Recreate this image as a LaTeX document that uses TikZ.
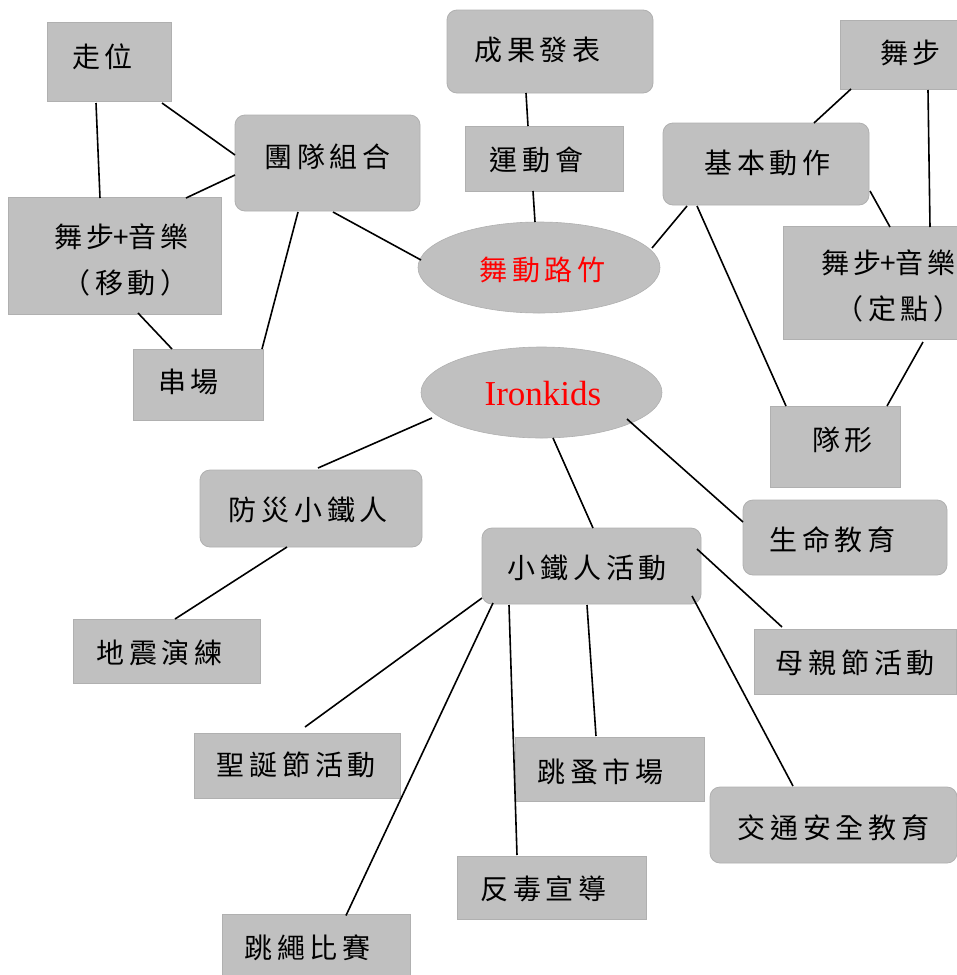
\documentclass[tikz,border=0pt]{standalone}
\usepackage{fontspec}
\newfontfamily\cjk[LetterSpace=17]{Noto Sans CJK TC}
\newfontfamily\ser{Liberation Serif}
\usetikzlibrary{shapes.geometric,calc}
\definecolor{boxgray}{RGB}{192,192,192}
\definecolor{edgegray}{RGB}{176,176,176}
\tikzset{
  sqbox/.style={rectangle,fill=boxgray,draw=edgegray,line width=0.8pt,inner sep=0pt},
  rdbox/.style={sqbox,rounded corners=10pt},
  ovl/.style={ellipse,fill=boxgray,draw=edgegray,line width=0.6pt,inner sep=0pt},
  txt/.style={font=\cjk\fontsize{28}{46}\selectfont,inner sep=0pt,align=center,xshift=2.5pt},
  redtxt/.style={txt,text=red},
  lat/.style={font=\ser\fontsize{35}{40}\selectfont,inner sep=0pt,text=red},
  conn/.style={line width=1.6pt,black}
}
\newcommand\bx[6]{\node[#2,minimum width={(#5)-(#3)},minimum height={(#6)-(#4)}] (#1) at ({((#3)+(#5))/2},{((#4)+(#6))/2}) {};}
\newcommand\plus{\kern-1.5pt+\kern-1pt}
\begin{document}
\begin{tikzpicture}[x=1pt,y=-1pt]
\useasboundingbox (0,0) rectangle (957,975);
\fill[white] (0,0) rectangle (957,975);
% boxes
\bx{zw}{sqbox}{47}{22}{171}{101}
\bx{td}{rdbox}{235}{115}{420}{211}
\bx{ym}{sqbox}{8}{197}{221}{314}
\bx{cc}{sqbox}{133}{349}{263}{420}
\bx{cg}{rdbox}{447}{10}{653}{93}
\bx{yd}{sqbox}{465}{126}{623}{191}
\node[ovl,minimum width=242,minimum height=91] (wd) at (539,267.5) {};
\bx{jb}{rdbox}{663}{123}{869}{205}
\bx{wb}{sqbox}{840}{20}{980}{89}
\bx{dd}{sqbox}{783}{226}{990}{339}
\bx{dx}{sqbox}{770}{406}{900}{487}
\node[ovl,minimum width=241,minimum height=91] (ik) at (541.5,392.5) {};
\bx{ff}{rdbox}{200}{470}{422}{547}
\bx{sm}{rdbox}{743}{500}{947}{575}
\bx{xt}{rdbox}{482}{528}{701}{604}
\bx{dz}{sqbox}{73}{619}{260}{683}
\bx{mq}{sqbox}{754}{629}{956}{694}
\bx{sd}{sqbox}{194}{733}{400}{798}
\bx{tz}{sqbox}{515}{737}{704}{801}
\bx{jx}{rdbox}{710}{787}{957}{863}
\bx{fd}{sqbox}{457}{856}{646}{919}
\bx{ts}{sqbox}{222}{914}{410}{995}
% texts
\node[txt] (zwt) at (100,57) {走位};
\node[txt] (tdt) at (325,157) {團隊組合};
\node[txt] (ymt) at (119,260) {舞步\plus 音樂\\\hspace{8pt}（移動）};
\node[txt] (cct) at (186,382) {串場};
\node[txt] (cgt) at (535,50) {成果發表};
\node[txt] (ydt) at (534,160) {運動會};
\node[redtxt] (wdt) at (540,270) {舞動路竹};
\node[txt] (jbt) at (765,163) {基本動作};
\node[txt] (wbt) at (908,53) {舞步};
\node[txt] (ddt) at (886,286) {舞步\plus 音樂\\\hspace{20pt}（定點）};
\node[txt] (dxt) at (840,440) {隊形};
\node[lat] (ikt) at (543,394) {Ironkids};
\node[txt] (fft) at (306,510) {防災小鐵人};
\node[txt] (smt) at (830,540) {生命教育};
\node[txt] (xtt) at (585,568) {小鐵人活動};
\node[txt] (dzt) at (157,653) {地震演練};
\node[txt] (mqt) at (853,663) {母親節活動};
\node[txt] (sdt) at (294,765) {聖誕節活動};
\node[txt] (tzt) at (598,772) {跳蚤市場};
\node[txt] (jxt) at (831,828) {交通安全教育};
\node[txt] (fdt) at (541,889) {反毒宣導};
\node[txt] (tst) at (305,948) {跳繩比賽};
% connectors
\draw[conn] ($(zw.center)+(-13,41.5)$) -- ($(ym.center)+(-14.5,-57.5)$);
\draw[conn] ($(zw.center)+(53,41.5)$) -- ($(td.center)+(-92.5,-8)$);
\draw[conn] ($(td.center)+(-92.5,12)$) -- ($(ym.center)+(71.5,-57.5)$);
\draw[conn] ($(ym.center)+(23.5,57.5)$) -- ($(cc.center)+(-26,-35.5)$);
\draw[conn] ($(td.center)+(-29.5,49)$) -- ($(cc.center)+(64,-35.5)$);
\draw[conn] ($(td.center)+(5.5,49)$) -- ($(wd.center)+(-118,-7.5)$);
\draw[conn] ($(cg.center)+(-24,41.5)$) -- ($(yd.center)+(-16,-32.5)$);
\draw[conn] ($(yd.center)+(-11,32.5)$) -- ($(wd.center)+(-4,-45.5)$);
\draw[conn] ($(wd.center)+(113,-19.5)$) -- ($(jb.center)+(-79,42)$);
\draw[conn] ($(jb.center)+(48,-41)$) -- ($(wb.center)+(-59,34.5)$);
\draw[conn] ($(wb.center)+(18,35.5)$) -- ($(dd.center)+(43.5,-55.5)$);
\draw[conn] ($(jb.center)+(104,27)$) -- ($(dd.center)+(3.5,-55.5)$);
\draw[conn] ($(jb.center)+(-69,42)$) -- ($(dx.center)+(-49,-40.5)$);
\draw[conn] ($(dd.center)+(36.5,59.5)$) -- ($(dx.center)+(52,-40.5)$);
\draw[conn] ($(ik.center)+(-109.5,25.5)$) -- ($(ff.center)+(7,-40.5)$);
\draw[conn] ($(ik.center)+(11.5,45.5)$) -- ($(xt.center)+(1.5,-38)$);
\draw[conn] ($(ik.center)+(85.5,26.5)$) -- ($(sm.center)+(-102,-15.5)$);
\draw[conn] ($(ff.center)+(-24,38.5)$) -- ($(dz.center)+(8.5,-32)$);
\draw[conn] ($(xt.center)+(105.5,-17)$) -- ($(mq.center)+(-73,-34.5)$);
\draw[conn] ($(xt.center)+(100.5,30)$) -- ($(jx.center)+(-40.5,-39)$);
\draw[conn] ($(xt.center)+(-4.5,39)$) -- ($(tz.center)+(-13.5,-33)$);
\draw[conn] ($(xt.center)+(-82.5,39)$) -- ($(fd.center)+(-34.5,-32.5)$);
\draw[conn] ($(xt.center)+(-98.5,37)$) -- ($(ts.center)+(30,-39)$);
\draw[conn] ($(xt.center)+(-109.5,32)$) -- ($(sd.center)+(8,-38.5)$);
\end{tikzpicture}
\end{document}
